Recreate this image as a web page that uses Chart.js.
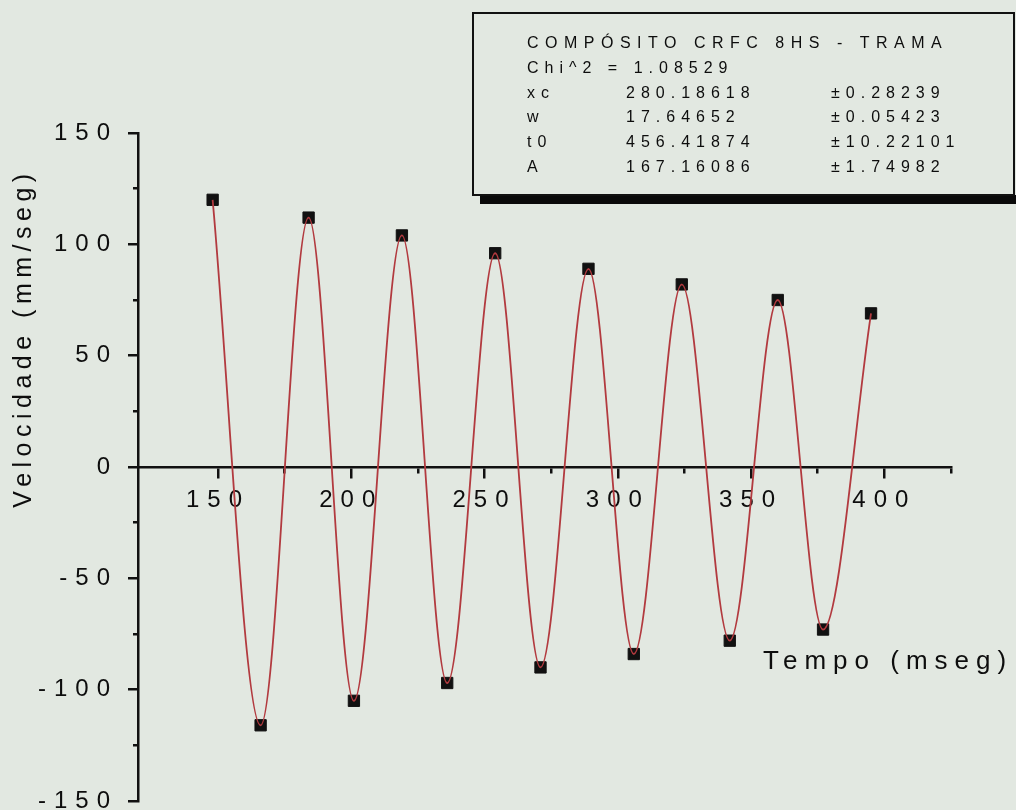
<!DOCTYPE html>
<html>
<head>
<meta charset="utf-8">
<script src="https://cdn.jsdelivr.net/npm/chart.js@4.4.0/dist/chart.umd.min.js"></script>
<style>
  body { margin: 0; background: #e2e8e1; }
  canvas { display: block; }
</style>
</head>
<body>
<canvas id="grafico" width="1016" height="810"></canvas>
<script>
// pontos medidos (picos e vales)
const tempo = [148, 166, 184, 201, 219, 236, 254, 271, 289, 306, 324, 342, 360, 377, 395];
const velocidade = [120, -116, 112, -105, 104, -97, 96, -90, 89, -84, 82, -78, 75, -73, 69];

// caixa do ajuste
const tituloAjuste = 'COMPÓSITO CRFC 8HS - TRAMA';
const chiQuadrado = 'Chi^2 = 1.08529';
const parametros = ['xc', 'w', 't0', 'A'];
const valores = ['280.18618', '17.64652', '456.41874', '167.16086'];
const erros = ['±0.28239', '±0.05423', '±10.22101', '±1.74982'];

const tituloX = 'Tempo (mseg)';
const tituloY = 'Velocidade (mm/seg)';

const pontos = tempo.map((t, i) => ({ x: t, y: velocidade[i] }));

const fonte = 'Arial, "Liberation Sans", sans-serif';

// espacamento entre letras, como no original
const espacamento = {
  id: 'espacamento',
  beforeLayout(chart) { chart.ctx.letterSpacing = '8px'; },
  beforeDraw(chart) { chart.ctx.letterSpacing = '8px'; },
  afterDraw(chart) {
    const ctx = chart.ctx;
    ctx.save();
    ctx.fillStyle = '#0d0d0d';

    // titulo do eixo y
    ctx.save();
    ctx.letterSpacing = '5.5px';
    ctx.font = '25px ' + fonte;
    ctx.translate(24, 338);
    ctx.rotate(-Math.PI / 2);
    ctx.textAlign = 'center';
    ctx.textBaseline = 'middle';
    ctx.fillText(tituloY, 0, 0);
    ctx.restore();

    // titulo do eixo x
    ctx.letterSpacing = '7px';
    ctx.font = '26px ' + fonte;
    ctx.textAlign = 'left';
    ctx.textBaseline = 'alphabetic';
    ctx.fillText(tituloX, 763, 669);

    // caixa com sombra
    ctx.fillStyle = '#0a0a0a';
    ctx.fillRect(480, 195, 536, 9);
    ctx.fillStyle = '#e2e8e1';
    ctx.fillRect(473, 13, 541, 182);
    ctx.strokeStyle = '#111';
    ctx.lineWidth = 2;
    ctx.strokeRect(473, 13, 541, 182);

    ctx.fillStyle = '#0d0d0d';
    ctx.font = '16px ' + fonte;
    ctx.letterSpacing = '6.5px';
    ctx.fillText(tituloAjuste, 527, 48);
    ctx.letterSpacing = '6px';
    ctx.fillText(chiQuadrado, 527, 73);
    parametros.forEach((p, i) => {
      const y = 97.5 + i * 24.7;
      ctx.fillText(p, 527, y);
      ctx.fillText(valores[i], 626, y);
      ctx.fillText(erros[i], 831, y);
    });
    ctx.restore();
  }
};

const menor = (dash) => (c) => (c.tick && c.tick.value % 50 !== 0 ? dash : []);

new Chart(document.querySelector('#grafico'), {
  type: 'scatter',
  data: {
    datasets: [
      {
        label: 'ajuste',
        data: pontos,
        showLine: true,
        cubicInterpolationMode: 'monotone',
        borderColor: '#b23a3f',
        borderWidth: 1.8,
        pointRadius: 0,
        order: 0
      },
      {
        label: 'dados',
        data: pontos,
        pointStyle: 'rect',
        pointRadius: 8,
        backgroundColor: '#111',
        borderColor: '#111',
        borderWidth: 1,
        order: 1
      }
    ]
  },
  options: {
    responsive: false,
    animation: false,
    layout: { padding: { top: 133, right: 65, bottom: 8, left: 0 } },
    plugins: { legend: { display: false }, tooltip: { enabled: false } },
    scales: {
      x: {
        type: 'linear',
        position: { y: 0 },
        min: 120,
        max: 425,
        border: { color: '#111', width: 2.5 },
        grid: {
          drawOnChartArea: false,
          tickLength: 10,
          lineWidth: 2.5,
          color: '#111',
          tickColor: (c) => (c.tick && c.tick.value === 125 ? 'rgba(0,0,0,0)' : '#111'),
          tickBorderDash: menor([5, 100])
        },
        ticks: {
          stepSize: 25,
          includeBounds: false,
          autoSkip: false,
          maxRotation: 0,
          padding: 9,
          color: '#0d0d0d',
          font: { size: 24, family: fonte },
          callback: (v) => (v % 50 === 0 ? String(v) : '')
        },
        afterFit: (s) => { s.paddingLeft = 0; s.paddingRight = 0; }
      },
      y: {
        type: 'linear',
        position: 'left',
        min: -150,
        max: 150,
        border: { color: '#111', width: 2.5 },
        grid: {
          drawOnChartArea: false,
          tickLength: 10,
          lineWidth: 2.5,
          color: '#111',
          tickBorderDash: menor([0, 5, 5, 100])
        },
        ticks: {
          stepSize: 25,
          autoSkip: false,
          padding: 10,
          color: '#0d0d0d',
          font: { size: 24, family: fonte },
          callback: (v) => (v % 50 === 0 ? String(v) : '')
        },
        afterFit: (s) => { s.width = 138; s.paddingTop = 0; s.paddingBottom = 0; }
      }
    }
  },
  plugins: [espacamento]
});
</script>
</body>
</html>
